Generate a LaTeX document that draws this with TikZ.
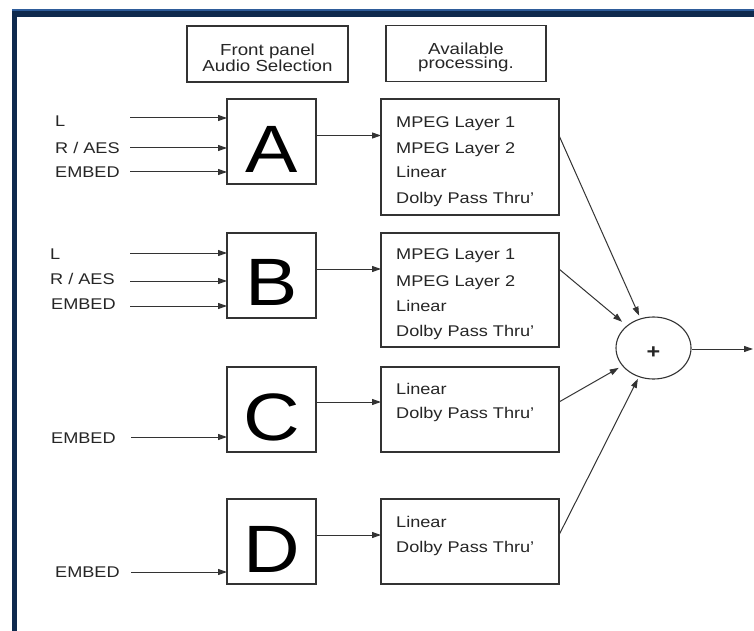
\documentclass[tikz,border=0pt]{standalone}
\usepackage{fontspec}
\setmainfont[FakeStretch=1.17]{Liberation Sans}
\usetikzlibrary{arrows.meta,shapes.geometric}
\definecolor{ln}{HTML}{333333}
\definecolor{tx}{HTML}{262626}
\definecolor{navy}{HTML}{0F2A4E}
\definecolor{lblue}{HTML}{2E5C9A}
\begin{document}
\begin{tikzpicture}[x=1pt,y=-1pt,
  hdr/.style={draw=ln, line width=1.2pt, inner sep=0pt, outer sep=0pt, minimum width=161pt, minimum height=56pt, align=center, font=\fontsize{16}{14.5}\selectfont, text=tx},
  sel/.style={draw=ln, line width=1.4pt, inner sep=0pt, outer sep=0pt, minimum width=89pt, minimum height=85pt},
  proc/.style={draw=ln, line width=1.4pt, inner sep=0pt, outer sep=0pt, minimum width=178pt, minimum height=#1},
  big/.style={anchor=base, inner sep=0pt, font=\fontsize{67}{67}\selectfont, text=black},
  txt/.style={anchor=west, inner sep=0pt, text height=11.1pt, text depth=0pt, font=\fontsize{15.5}{18}\selectfont, text=tx},
  arr/.style={draw=ln, line width=1pt, -{Triangle[length=9pt,width=6pt]}}
]
\useasboundingbox (0,0) rectangle (754,631);
\fill[white] (0,0) rectangle (754,631);
% frame
\fill[lblue] (12,9) rectangle (754,11.5);
\fill[navy] (12,11.5) rectangle (754,17);
\fill[navy] (12,11.5) rectangle (17,631);

% headers
\node[hdr] (h1) at (267.5,54) {\rule{0pt}{19.5pt}Front panel\\Audio Selection};
\node[hdr, minimum width=160pt] (h2) at (466,53.5) {\rule{0pt}{19.5pt}Available\\processing.};

% selection boxes
\node[sel] (A) at (271.5,141.5) {};
\node[sel] (B) at (271.5,275.5) {};
\node[sel] (C) at (271.5,409.5) {};
\node[sel] (D) at (271.5,541.5) {};
\node[big] (lA) at ([yshift=11.5pt]A.south) {A};
\node[big] (lB) at ([yshift=13pt]B.south) {B};
\node[big] (lC) at ([yshift=12pt]C.south) {C};
\node[big] (lD) at ([yshift=12pt]D.south) {D};

% processing boxes
\node[proc=116pt] (P1) at (470,157) {};
\node[proc=114pt] (P2) at (470,290) {};
\node[proc=85pt] (P3) at (470,409.5) {};
\node[proc=85pt] (P4) at (470,541.5) {};

\node[txt] (p1a) at (396,121.5) {MPEG Layer 1};
\node[txt] (p1b) at (396,147.5) {MPEG Layer 2};
\node[txt] (p1c) at (396,172) {Linear};
\node[txt] (p1d) at (396,197.5) {Dolby Pass Thru'};
\node[txt] (p2a) at (396,254) {MPEG Layer 1};
\node[txt] (p2b) at (396,281) {MPEG Layer 2};
\node[txt] (p2c) at (396,306) {Linear};
\node[txt] (p2d) at (396,331) {Dolby Pass Thru'};
\node[txt] (p3a) at (396,389) {Linear};
\node[txt] (p3b) at (396,413) {Dolby Pass Thru'};
\node[txt] (p4a) at (396,522) {Linear};
\node[txt] (p4b) at (396,547) {Dolby Pass Thru'};

% input labels
\node[txt] (tA1) at (55,121) {L};
\node[txt] (tA2) at (55,147.5) {R / AES};
\node[txt] (tA3) at (55,172) {EMBED};
\node[txt] (tB1) at (50,254) {L};
\node[txt] (tB2) at (50,279) {R / AES};
\node[txt] (tB3) at (51,304) {EMBED};
\node[txt] (tC1) at (51,438) {EMBED};
\node[txt] (tD1) at (55,572) {EMBED};

% input arrow start points
\coordinate (iA1) at (130,118);
\coordinate (iA2) at (130,148);
\coordinate (iA3) at (130,172);
\coordinate (iB1) at (130,253);
\coordinate (iB2) at (130,281);
\coordinate (iB3) at (130,306);
\coordinate (iC1) at (131,437);
\coordinate (iD1) at (131,572);
\foreach \c/\b in {iA1/A,iA2/A,iA3/A,iB1/B,iB2/B,iB3/B,iC1/C,iD1/D}
  \draw[arr] (\c) -- (\c -| \b.west);

% sum
\node[draw=ln, line width=1.1pt, ellipse, minimum width=75pt, minimum height=62pt, inner sep=0pt, text height=21pt, text depth=0pt, font=\bfseries\fontsize{20}{20}\selectfont, text=tx] (S) at (653.5,348) {+};
\coordinate (out) at (753,349);
\draw[arr] ([yshift=-1pt]S.east) -- (out);

% selection -> processing
\draw[arr] ([yshift=6pt]A.east) -- ([yshift=6pt]A.east -| P1.west);
\draw[arr] ([yshift=6.5pt]B.east) -- ([yshift=6.5pt]B.east -| P2.west);
\draw[arr] ([yshift=7.5pt]C.east) -- ([yshift=7.5pt]C.east -| P3.west);
\draw[arr] ([yshift=6.5pt]D.east) -- ([yshift=6.5pt]D.east -| P4.west);

% processing -> sum
\draw[arr, shorten >=3pt] ([yshift=6pt]A.east -| P1.east) -- (S);
\draw[arr, shorten >=6pt] ([yshift=6.5pt]B.east -| P2.east) -- (S);
\draw[arr, shorten >=4pt] ([yshift=7.5pt]C.east -| P3.east) -- (S);
\draw[arr, shorten >=2pt] ([yshift=6.5pt]D.east -| P4.east) -- (S);
\end{tikzpicture}
\end{document}
